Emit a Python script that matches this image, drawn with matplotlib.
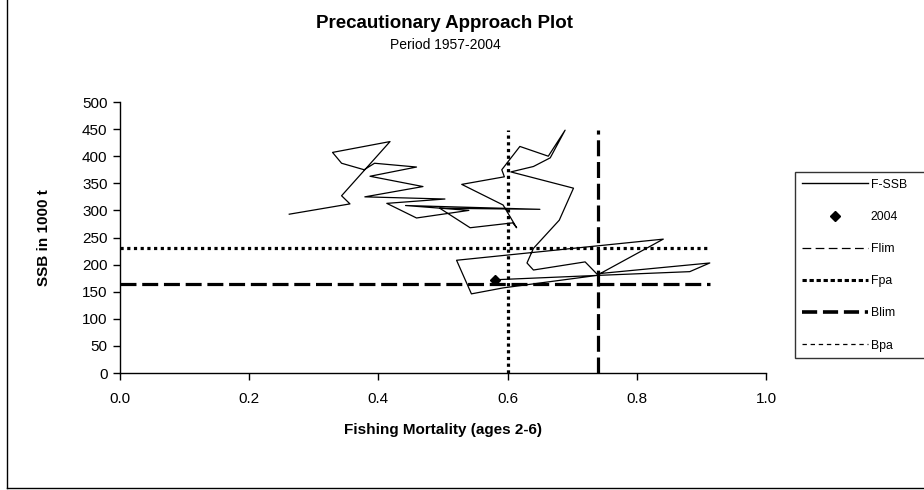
import matplotlib
matplotlib.use("Agg")
import matplotlib.pyplot as plt
from matplotlib.lines import Line2D

plt.rcParams['font.family'] = ['Liberation Sans', 'DejaVu Sans']

years = list(range(1957, 2005))
f_values = [0.262, 0.356, 0.343, 0.418, 0.329, 0.343, 0.378, 0.394, 0.459, 0.387,
            0.469, 0.379, 0.503, 0.413, 0.459, 0.540, 0.442, 0.650, 0.495, 0.542,
            0.608, 0.614, 0.593, 0.529, 0.595, 0.591, 0.619, 0.663, 0.689, 0.666,
            0.640, 0.605, 0.702, 0.680, 0.640, 0.630, 0.640, 0.720, 0.738, 0.913,
            0.882, 0.738, 0.841, 0.521, 0.544, 0.593, 0.738, 0.580]
ssb_values = [293, 312, 327, 427, 407, 387, 375, 387, 380, 363,
              344, 325, 321, 313, 286, 300, 309, 302, 304, 268,
              277, 268, 310, 348, 362, 375, 418, 400, 448, 397,
              381, 371, 341, 282, 230, 203, 190, 205, 183, 203,
              187, 180, 247, 208, 146, 157, 180, 172]

flim = 0.74
fpa = 0.6
blim = 165
bpa = 230

x_ticks = [0.0, 0.2, 0.4, 0.6, 0.8, 1.0]
y_ticks = list(range(0, 501, 50))

fig = plt.figure(figsize=(9.24, 4.90), dpi=100)
fig.add_artist(Line2D([7 / 924, 7 / 924], [2 / 490, 1.0], transform=fig.transFigure,
                      color='black', linewidth=1.0))
fig.add_artist(Line2D([7 / 924, 1.0], [2 / 490, 2 / 490], transform=fig.transFigure,
                      color='black', linewidth=1.0))

ax = fig.add_axes([120 / 924, 1 - 373 / 490, 646 / 924, 271 / 490])

fmax = max(f_values)
smax = max(ssb_values)

ax.plot(f_values, ssb_values, color='black', linewidth=0.9, zorder=3)
ax.plot([f_values[-1]], [ssb_values[-1]], marker='D', color='black', markersize=5.5,
        linestyle='none', zorder=4)

ax.plot([flim, flim], [0, smax], color='black', linewidth=2.3, linestyle=(0, (5, 1.8)), zorder=2)
ax.plot([fpa, fpa], [0, smax], color='black', linewidth=2.3, linestyle=(0, (1.0, 1.1)), zorder=2)
ax.plot([0, fmax], [blim, blim], color='black', linewidth=2.3, linestyle=(0, (5, 1.8)), zorder=2)
ax.plot([0, fmax], [bpa, bpa], color='black', linewidth=2.3, linestyle=(0, (1.0, 1.1)), zorder=2)

ax.set_xlim(0, 1.0)
ax.set_ylim(0, 500)
ax.set_xticks(x_ticks)
ax.set_xticklabels([f"{v:.1f}" for v in x_ticks])
ax.set_yticks(y_ticks)
ax.set_yticklabels([str(v) for v in y_ticks])
for s in ['top', 'right']:
    ax.spines[s].set_visible(False)
for s in ['left', 'bottom']:
    ax.spines[s].set_linewidth(1.0)
ax.tick_params(axis='both', direction='out', length=5, width=1.0, labelsize=11)
ax.tick_params(axis='y', pad=4)
ax.tick_params(axis='x', pad=9)

ax.set_xlabel('Fishing Mortality (ages 2-6)', fontsize=11, fontweight='bold', labelpad=12)
ax.set_ylabel('SSB in 1000 t', fontsize=11, fontweight='bold', labelpad=22)

fig.text(445 / 924, 1 - 24 / 490, 'Precautionary Approach Plot', ha='center', va='center',
         fontsize=13.5, fontweight='bold')
fig.text(445 / 924, 1 - 45 / 490, 'Period 1957-2004', ha='center', va='center', fontsize=10)

handles = [
    Line2D([], [], color='black', linewidth=1.0),
    Line2D([], [], color='black', marker='D', markersize=5.5, linestyle='none'),
    Line2D([], [], color='black', linewidth=0.9, linestyle=(0, (7, 3.5))),
    Line2D([], [], color='black', linewidth=2.2, linestyle=(0, (1.4, 0.9))),
    Line2D([], [], color='black', linewidth=2.6, linestyle=(0, (4.2, 1.6))),
    Line2D([], [], color='black', linewidth=0.9, linestyle=(0, (3.5, 3))),
]
labels = ['F-SSB', '2004', 'Flim', 'Fpa', 'Blim', 'Bpa']
leg = fig.legend(handles, labels, loc='upper left',
                 bbox_to_anchor=(795 / 924, 1 - 172 / 490, 150 / 924, 0.0), mode='expand',
                 fontsize=8.8, frameon=True, fancybox=False, edgecolor='black',
                 handlelength=5.4, handletextpad=0.25, labelspacing=1.65,
                 borderpad=0.55, borderaxespad=0)
leg.get_frame().set_linewidth(1.0)

fig.savefig('out.png', dpi=100)
